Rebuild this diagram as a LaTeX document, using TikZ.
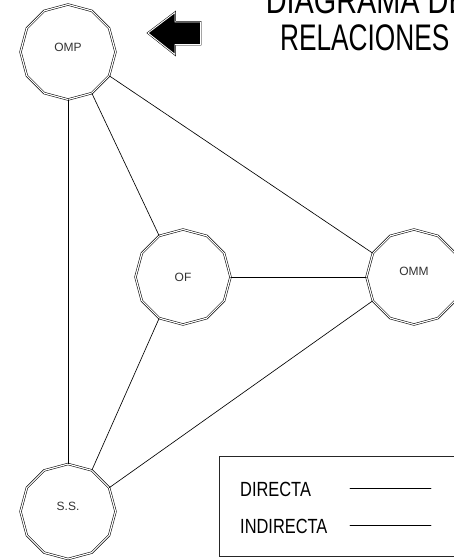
\documentclass[tikz,border=0pt]{standalone}
\usepackage{fontspec}
\setmainfont{Liberation Sans}
\newfontfamily\narrowfont[FakeStretch=0.8]{Liberation Sans}
\usetikzlibrary{shapes.geometric}
\begin{document}
\begin{tikzpicture}[x=1pt,y=-1pt,
  poly/.style={regular polygon, regular polygon sides=12, shape border rotate=15,
    minimum size=95pt, inner sep=0pt, draw=black, line width=0.55pt,
    double=white, double distance=1.2pt},
  lbl/.style={font=\fontsize{12}{14}\selectfont, text=black!80, inner sep=0pt},
  link/.style={line width=0.65pt, line cap=round},
  legtext/.style={font=\narrowfont\fontsize{20.5}{24}\selectfont, inner sep=0pt, anchor=base west},
  titletext/.style={font=\fontsize{37}{40}\selectfont, inner sep=0pt, anchor=base west},
  arrowshape/.style={line width=0.5pt, double=white, double distance=0.9pt, fill=black}]
\useasboundingbox (0,0) rectangle (454,560);
\clip (0,0) rectangle (454,560);
\fill[white] (0,0) rectangle (454,560);

% title
\node[titletext] (t1) at (265.6,13) {\scalebox{0.78}[1]{DIAGRAMA DE}};
\node[titletext] (t2) at (279.9,50) {\scalebox{0.71}[1]{RELACIONES}};

% arrow
\draw[arrowshape] (148,33) -- (175,12.5) -- (175,22) -- (200.5,22) -- (200.5,44.5)
  -- (175,44.5) -- (175,54.5) -- cycle;

% nodes
\node[poly, label={[lbl, yshift=4.5pt]center:OMP}] (omp) at (68,52) {};
\node[poly, label={[lbl, yshift=-0.8pt]center:OF}] (of) at (183,277) {};
\node[poly, label={[lbl, yshift=6pt]center:OMM}] (omm) at (414,277) {};
\node[poly, label={[lbl, yshift=5pt]center:S.S.}] (ss) at (68,511.5) {};

% connectors
\draw[link] (omp.-90) -- (ss.90);
\draw[link] (omp.-60) -- (of.120);
\draw[link] (omp.-30) -- (omm.150);
\draw[link] (of.0) -- (omm.180);
\draw[link] (of.-120) -- (ss.60);
\draw[link] (omm.-150) -- (ss.30);

% legend
\draw[line width=0.8pt, draw=black!85] (219,456) rectangle (480,556);
\node[legtext] (dir) at (240,496) {DIRECTA};
\node[legtext] (indir) at (240,533) {INDIRECTA};
\coordinate (d1) at (350,488);
\coordinate (d2) at (431,488);
\coordinate (i1) at (350,525.7);
\coordinate (i2) at (431,525.7);
\draw[link] (d1) -- (d2);
\draw[link] (i1) -- (i2);
\end{tikzpicture}
\end{document}
